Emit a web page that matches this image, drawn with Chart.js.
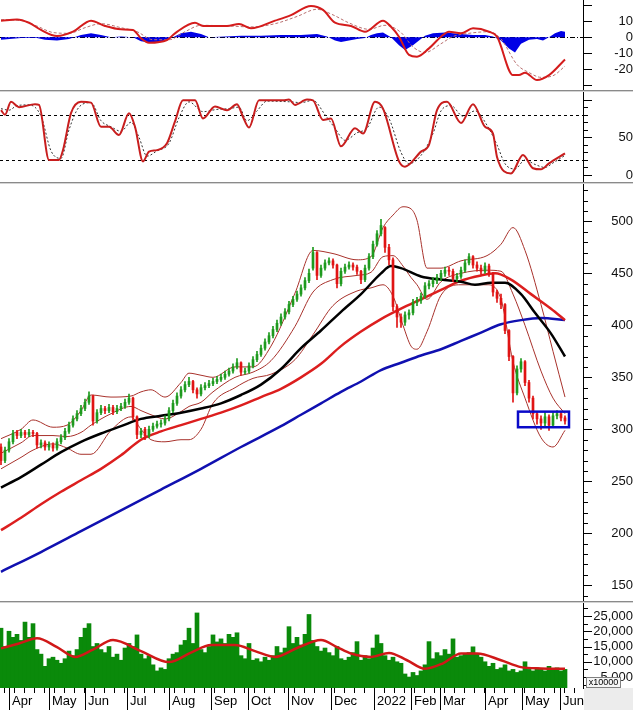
<!DOCTYPE html>
<html>
<head>
<meta charset="utf-8">
<script src="https://cdn.jsdelivr.net/npm/chart.js@4.4.1/dist/chart.umd.min.js"></script>
<style>
html, body { margin: 0; padding: 0; background: #fff; }
#wrap { position: relative; width: 633px; height: 710px; overflow: hidden; }
#wrap canvas { position: absolute; left: 0; }
.sep { position: absolute; left: 0; width: 633px; height: 2px; box-sizing: border-box; border-top: 1px solid #8a8a8a; background: #d4d4d4; }
</style>
</head>
<body>
<div id="wrap">
  <canvas id="macd" width="633" height="90" style="top:0"></canvas>
  <div class="sep" style="top:90px"></div>
  <canvas id="stoch" width="633" height="90" style="top:92px"></canvas>
  <div class="sep" style="top:182px"></div>
  <canvas id="price" width="633" height="417" style="top:184px"></canvas>
  <div class="sep" style="top:601px"></div>
  <canvas id="vol" width="633" height="107" style="top:603px"></canvas>
</div>
<script>
// x values are trading sessions counted from late March 2021; candles are sampled every 2 sessions
const STEP = 2;

const monthLabels = ['Apr', 'May', 'Jun', 'Jul', 'Aug', 'Sep', 'Oct', 'Nov', 'Dec', '2022', 'Feb', 'Mar', 'Apr', 'May', 'Jun'];
const monthStarts = [4, 24, 42, 63, 84, 105, 123.5, 143.5, 165, 186.5, 205, 219.5, 242, 260.5, 279.5];

const opens = [283,270,280,288,297,294,297,295,297,296, 285,287,283,285,282,288,292,298,304,310,
  315,320,326,332,308,316,320,318,321,317, 320,322,326,330,312,295,300,294,300,303,
  305,306,310,318,325,332,338,343,346,338, 334,340,342,344,346,348,350,353,356,360,
  364,355,356,361,367,372,378,384,390,396, 402,408,413,420,425,430,436,443,455,470,
  448,455,460,462,458,440,452,456,458,456, 452,444,455,466,478,488,494,475,463,418,
  408,403,410,412,422,424,428,438,440,443, 446,450,453,452,445,447,453,460,466,458,
  455,452,457,450,432,426,420,395,370,335, 358,365,345,330,315,310,306,312,304,313,
  315,311];
const closes = [270,280,288,296,294,297,295,297,296,285, 287,283,285,282,288,292,298,304,310,315,
  320,326,332,308,316,320,318,321,317,320, 322,326,330,312,295,298,294,300,303,305,
  306,310,318,325,332,338,343,346,338,334, 340,342,344,346,348,350,353,356,360,364,
  355,356,361,367,372,378,384,390,396,402, 408,413,420,425,430,436,443,450,470,448,
  455,460,462,458,440,452,456,458,456,452, 444,455,466,478,488,496,475,463,418,408,
  403,410,412,422,424,428,438,440,443,446, 450,453,452,445,447,453,460,466,458,455,
  452,457,450,432,426,420,395,370,335,358, 365,345,330,315,310,306,312,304,313,315,
  311,308];
const highs = [286,283,291,299,299,300,299,300,299,297, 290,289,288,287,291,295,301,307,313,318,
  323,329,336,333,319,323,322,324,323,323, 325,329,334,331,313,301,302,303,306,308,
  309,313,321,328,335,341,346,350,347,340, 343,345,347,349,351,353,356,359,363,368,
  365,359,364,370,375,381,387,393,399,405, 411,416,423,428,433,439,446,454,475,471,
  458,463,465,464,459,455,459,461,460,458, 453,458,469,481,491,502,495,478,465,420,
  411,413,415,425,427,431,441,443,446,449, 453,456,456,454,450,456,463,469,467,461,
  458,460,459,451,434,430,421,396,371,361, 368,366,347,332,317,313,316,314,316,318,
  317,313];
const lows = [266,268,278,286,291,292,292,293,293,282, 282,280,280,279,280,286,290,296,302,308,
  313,318,324,304,306,314,315,316,314,315, 318,320,324,309,291,292,290,292,298,301,
  302,304,308,316,323,330,336,341,335,330, 332,338,340,342,344,346,348,351,354,358,
  352,353,354,359,365,370,376,382,388,394, 400,406,411,418,423,428,434,441,453,444,
  446,453,458,455,436,438,450,454,453,449, 440,442,453,464,476,486,470,458,414,398,
  398,400,406,410,419,421,426,435,437,440, 443,447,448,442,442,445,451,458,455,452,
  449,450,447,428,422,416,392,366,326,333, 355,342,326,310,305,300,303,299,302,310,
  308,305];

// volume in units of 10000 shares
const volumes = [21000,15000,20000,18000,19000,17000,23000,18000,22500,14000,
  12500,8500,11000,11500,10500,9500,11000,13500,12000,14000,
  18000,21000,22500,15000,16000,14000,13000,15000,11500,12500,
  10500,14500,16000,15000,18800,12500,11000,12000,9000,7000,
  8000,7500,11000,12500,13000,15500,17000,21000,16000,26000,
  14000,13000,15000,18800,16500,17500,16000,19000,18000,19500,
  12000,11000,16000,10500,11000,10000,11500,10500,12000,15000,
  13000,14500,21500,16000,18000,15500,19000,25500,17000,15000,
  13500,14500,13000,12000,15000,11000,10500,11500,13000,16600,
  10500,12000,11000,14500,18800,16000,12000,10500,11500,10000,
  9500,6000,5000,6500,5500,7000,9000,16600,11000,13000,
  12000,14000,12500,17500,11500,12000,12500,13000,14900,12500,
  11500,10000,8500,9500,7500,8000,9000,7000,7500,6500,
  7000,10000,7500,7000,8000,7500,7000,8500,7500,8000,
  7000,7500];
const volMaDays = [0,9,18,28,37,46,56,70,84,95,105,117,127,137,148,160,168,175,185,194,203,212,221,230,238,250,260,270,282];
const volMa = [14400,16000,17700,14800,11600,14000,17150,13500,9900,13000,15500,15500,13500,11600,14500,17150,14800,12700,11600,12900,10500,7700,9500,12700,12700,10500,8250,7800,7700];

const ma50Days = [0,10,20,30,40,50,60,70,80,90,100,110,120,130,140,150,160,170,180,190,195,200,210,220,230,237,245,252,260,267,275,282];
const ma50 = [244,254,266,278,288,296,303,310,313,316,320,325,333,343,358,378,395,413,430,450,457,455,447,444,442,439,441,441,430,412,392,370];
const ma100Days = [0,10,20,30,40,50,60,70,80,90,100,110,120,130,140,150,160,170,180,190,200,210,220,230,240,247,255,265,275,282];
const ma100 = [203,215,228,240,251,262,275,290,298,304,310,316,323,331,339,350,363,380,394,406,416,425,434,443,448,450,444,430,416,405];
const ma200Days = [0,20,40,60,80,100,120,140,150,160,170,180,190,200,210,220,230,240,250,260,270,282];
const ma200 = [163,182,202,222,242,262,283,303,314,325,336,346,357,364,371,377,385,393,401,405,407,405];

const bbDays = [0,10,16,26,33,40,45,55,65,70,75,82,90,94,100,106,117,126,135,147,156,166,178,185,191,196,201,205,208,213,220,230,243,250,256,262,270,276,282];
const bbUpper = [291,300,309,302,304,318,333,331,332,336,338,331,345,354,352,350,360,360,380,431,472,469,463,466,494,506,514,512,501,455,455,462,467,478,494,472,420,375,331];
const bbMid = [277,287,294,294,293,297,304,315,322,318,314,310,317,322,326,336,350,355,366,399,432,444,448,451,466,467,457,446,439,425,442,450,453,452,430,400,356,330,315];
const bbLower = [262,273,280,286,282,276,276,299,312,300,290,288,290,290,300,325,340,349,353,367,391,419,433,436,439,428,400,380,377,394,429,439,439,425,365,330,292,283,299];

const boxDays = [258.5, 284];
const boxPrices = [302, 317];

const macdDays = [0,8,14,20,28,36,45,52,60,66,70,74,83,87,97,101,113,119,125,137,145,155,161,167,175,182,191,195,199,204,208,214,220,224,230,236,244,248,256,259,262,268,274,282];
const macd = [10.4,11.2,9.1,4.6,0.8,3.5,10.4,7.1,5,4.6,-0.6,-3.4,-1.7,2.5,9.1,7.1,7.1,8.3,5.6,10.4,13.9,19.6,17.1,9.1,7.1,3.5,10.4,6.6,0.4,-11,-12.1,-6.9,0.4,3.5,2.5,5.6,3.5,0.4,-23.6,-23.6,-22.1,-26.7,-23.6,-13.8];
const sigDays = [0,10,18,26,34,42,50,60,68,76,84,92,100,115,125,137,148,158,166,174,184,192,200,206,212,220,226,234,244,250,258,264,270,276,282];
const signal = [11,10.5,7,3,2.5,6,8.5,6,3.5,-1.5,-1.5,3.5,7.5,7,6.5,8.5,13,17.5,14,9,5,7.5,3,-6,-9.5,-4,0.5,2.5,3.5,-1,-17,-22,-25,-24,-18];
const histDays = [0,10,18,22,28,34,40,45,50,55,60,66,70,76,82,86,90,95,100,104,112,120,130,140,150,158,163,167,170,174,178,182,185,188,191,195,199,202,206,209,212,216,222,226,230,236,242,246,250,254,257,260,264,268,271,274,277,280,282];
const hist = [-1.5,-0.5,-0.5,-1.5,-2,-1,1.5,2.5,1.5,0,0.5,0,-2.5,-3.5,-2,0,2.5,3.5,2,0,0.5,1,1,1.5,1.5,2,0.5,-2,-3,-2,-1,-0.5,1.5,2.5,3,0,-5,-8,-5,-2,1,2.5,3,2.5,2,1.5,1.5,0.5,-2,-7,-9.5,-4,-1.5,-1,-2,0,2.5,4,3.5];

const kDays = [0,2,5,9,17,19,24,29,31,35,40,45,50,54,59,64,67,71,74,78,83,87,91,97,101,107,113,118,121,124,129,141,144,147,153,156,161,165,170,177,181,187,191,199,202,210,214,218,223,230,236,242,246,248,255,261,266,270,274,282];
const stochK = [86,80,97,90,94,93,20,20,33,82,97,96,64,64,53,82,64,18,31,33,42,71,99,99,75,91,86,94,77,63,99,99,100,93,100,99,73,75,38,62,55,97,88,18,11,31,40,86,97,69,94,64,55,24,2,26.5,9,7.5,15.5,28.8];
const dDays = [0,4,8,14,20,25,30,34,39,45,50,55,60,65,69,73,78,84,89,94,101,108,114,119,123,128,133,145,150,156,162,167,172,178,183,189,194,200,204,210,216,220,225,231,237,243,248,252,257,262,267,272,276,282];
const stochD = [88,86,92,93,78,32,22,60,90,96,72,64,58,70,50,25,32,42,76,97,84,87,88,90,72,85,98,97,96,99,80,62,46,56,62,90,75,30,15,26,55,85,92,78,85,66,40,15,8,20,14,10,16,26];

const FONT = "'Liberation Sans', Arial, sans-serif";
Chart.defaults.font.family = FONT;
Chart.defaults.font.size = 13;
Chart.defaults.color = '#000';
Chart.defaults.animation = false;
Chart.defaults.plugins.legend.display = false;
Chart.defaults.plugins.tooltip.enabled = false;
Chart.defaults.elements.point.radius = 0;

const X0 = -0.5, X1 = 291;
const xAxis = () => ({ type: 'linear', min: X0, max: X1, display: false, offset: false });

function yAxis(min, max, labels, pad) {
  return {
    position: 'right', min, max, beginAtZero: false,
    grid: { display: false, drawTicks: false },
    border: { display: true, color: '#000', width: 1 },
    ticks: { padding: pad, crossAlign: 'far', autoSkip: false, color: '#111' },
    afterBuildTicks: s => { s.ticks = labels.map(v => ({ value: v })); },
    afterFit: s => { s.width = 50; s.paddingTop = 0; s.paddingBottom = 0; }
  };
}

const pts = (days, vals) => days.map((d, i) => ({ x: d, y: vals[i] }));
function lineDs(days, vals, color, width, extra) {
  return Object.assign({
    type: 'line', data: pts(days, vals), borderColor: color, borderWidth: width,
    pointRadius: 0, cubicInterpolationMode: 'monotone', fill: false
  }, extra || {});
}

// guide lines under the data, tick marks on the right axis after everything
function decor(o) {
  return {
    id: 'decor',
    beforeDatasetsDraw(chart) {
      const { ctx, chartArea: a, scales: { y } } = chart;
      (o.lines || []).forEach(l => {
        const p = Math.round(y.getPixelForValue(l.v)) + 0.5;
        ctx.save();
        ctx.strokeStyle = '#000'; ctx.lineWidth = 1; ctx.setLineDash(l.dash);
        ctx.beginPath(); ctx.moveTo(a.left, p); ctx.lineTo(a.right, p); ctx.stroke();
        ctx.restore();
      });
    },
    afterDraw(chart) {
      const { ctx, scales: { y } } = chart;
      const x0 = Math.round(y.left);
      ctx.save();
      ctx.strokeStyle = '#000'; ctx.lineWidth = 1;
      ctx.beginPath();
      (o.major || []).forEach(v => { const p = Math.round(y.getPixelForValue(v)) + 0.5; ctx.moveTo(x0, p); ctx.lineTo(x0 + 9, p); });
      (o.minor || []).forEach(v => { const p = Math.round(y.getPixelForValue(v)) + 0.5; ctx.moveTo(x0, p); ctx.lineTo(x0 + 5, p); });
      ctx.stroke();
      ctx.restore();
      if (o.extra) o.extra(chart);
    }
  };
}

function range(a, b, s) { const r = []; for (let v = a; v <= b + 1e-9; v += s) r.push(v); return r; }

// ---- MACD ----
new Chart(document.getElementById('macd'), {
  type: 'line',
  data: { datasets: [
    lineDs(histDays, hist, 'rgba(0,0,0,0)', 0, { fill: 'origin', backgroundColor: '#0000e6', cubicInterpolationMode: 'default', tension: 0, order: 3 }),
    lineDs(sigDays, signal, '#b87070', 1, { borderDash: [3, 2], order: 2 }),
    lineDs(macdDays, macd, '#d41c1c', 2, { order: 1 })
  ] },
  options: {
    responsive: false, devicePixelRatio: 1, layout: { padding: 0 },
    scales: { x: xAxis(), y: yAxis(-32.9, 23.3, [10, 0, -10, -20], 28) }
  },
  plugins: [decor({ lines: [{ v: 0, dash: [5, 2, 1, 2] }], major: [20, 10, 0, -10, -20, -30] })]
});

// ---- Stochastic ----
new Chart(document.getElementById('stoch'), {
  type: 'line',
  data: { datasets: [
    lineDs(dDays, stochD, '#333', 1, { borderDash: [2, 2], order: 2 }),
    lineDs(kDays, stochK, '#c81e1e', 2, { order: 1 })
  ] },
  options: {
    responsive: false, devicePixelRatio: 1, layout: { padding: 0 },
    scales: { x: xAxis(), y: yAxis(-9.3, 110.1, [50, 0], 32) }
  },
  plugins: [decor({ lines: [{ v: 80, dash: [3, 3] }, { v: 20, dash: [3, 3] }], major: [0, 50, 100], minor: [10, 20, 30, 40, 60, 70, 80, 90] })]
});

// ---- Price ----
const upCol = '#1e9a1e', downCol = '#e01414';
const candleCols = closes.map((c, i) => c >= opens[i] ? upCol : downCol);
const bandStyle = { order: 8 };
new Chart(document.getElementById('price'), {
  type: 'bar',
  data: { datasets: [
    lineDs(bbDays, bbUpper, '#a8322c', 1, bandStyle),
    lineDs(bbDays, bbMid, '#a8322c', 1, bandStyle),
    lineDs(bbDays, bbLower, '#a8322c', 1, bandStyle),
    lineDs(ma200Days, ma200, '#1010b0', 2.5, { order: 7 }),
    lineDs(ma100Days, ma100, '#dc1e1e', 2.5, { order: 6 }),
    lineDs(ma50Days, ma50, '#000', 2.5, { order: 5 }),
    { type: 'bar', data: lows.map((l, i) => ({ x: i * STEP, y: [l, highs[i]] })), backgroundColor: candleCols, barThickness: 1, grouped: false, order: 2 },
    { type: 'bar', data: opens.map((o, i) => ({ x: i * STEP, y: [o, closes[i]] })), backgroundColor: candleCols, barThickness: 2, grouped: false, order: 1 }
  ] },
  options: {
    responsive: false, devicePixelRatio: 1, layout: { padding: 0 },
    scales: { x: xAxis(), y: yAxis(134.9, 535.9, [500, 450, 400, 350, 300, 250, 200, 150], 25) }
  },
  plugins: [decor({
    major: range(150, 500, 50), minor: range(140, 530, 10),
    extra(chart) {
      const { ctx, scales: { x, y } } = chart;
      const l = x.getPixelForValue(boxDays[0]), r = x.getPixelForValue(boxDays[1]);
      const t = y.getPixelForValue(boxPrices[1]), b = y.getPixelForValue(boxPrices[0]);
      ctx.save(); ctx.strokeStyle = '#0a0ac8'; ctx.lineWidth = 2.5;
      ctx.strokeRect(l, t, r - l, b - t); ctx.restore();
    }
  })]
});

// ---- Volume + date axis ----
new Chart(document.getElementById('vol'), {
  type: 'bar',
  data: { datasets: [
    { type: 'bar', data: volumes.map((v, i) => ({ x: i * STEP, y: v })), backgroundColor: '#0a8a0a', barThickness: 4, grouped: false, order: 2 },
    lineDs(volMaDays, volMa, '#d01818', 2.5, { order: 1 })
  ] },
  options: {
    responsive: false, devicePixelRatio: 1, layout: { padding: { bottom: 22 } },
    scales: { x: xAxis(), y: yAxis(1400, 29260, [25000, 20000, 15000, 10000, 5000], 11) }
  },
  plugins: [decor({
    major: range(5000, 25000, 5000), minor: range(2500, 27500, 5000),
    extra(chart) {
      const { ctx, chartArea: a, scales: { x } } = chart;
      const top = a.bottom, H = chart.height;
      ctx.save();
      ctx.fillStyle = '#ececec'; ctx.fillRect(a.right + 1, top, chart.width - a.right, H - top);
      // unit box
      ctx.fillStyle = '#f6f6f6'; ctx.fillRect(a.right + 3, top - 11, 35, 11);
      ctx.strokeStyle = '#808080'; ctx.lineWidth = 1; ctx.strokeRect(a.right + 3.5, top - 10.5, 34, 10);
      ctx.fillStyle = '#000'; ctx.font = '9px ' + FONT; ctx.textAlign = 'center'; ctx.textBaseline = 'middle';
      ctx.fillText('x10000', a.right + 20.5, top - 5);
      // weekly ticks and month separators
      ctx.strokeStyle = '#000';
      ctx.beginPath();
      for (let d = 1.5; d < X1; d += 5) { const p = Math.round(x.getPixelForValue(d)) + 0.5; ctx.moveTo(p, top); ctx.lineTo(p, top + 5); }
      monthStarts.forEach(d => { const p = Math.round(x.getPixelForValue(d)) + 0.5; ctx.moveTo(p, top); ctx.lineTo(p, H); });
      ctx.stroke();
      ctx.font = '13px ' + FONT; ctx.textAlign = 'left';
      monthStarts.forEach((d, i) => ctx.fillText(monthLabels[i], x.getPixelForValue(d) + 3, top + 13));
      ctx.restore();
    }
  })]
});
</script>
</body>
</html>
